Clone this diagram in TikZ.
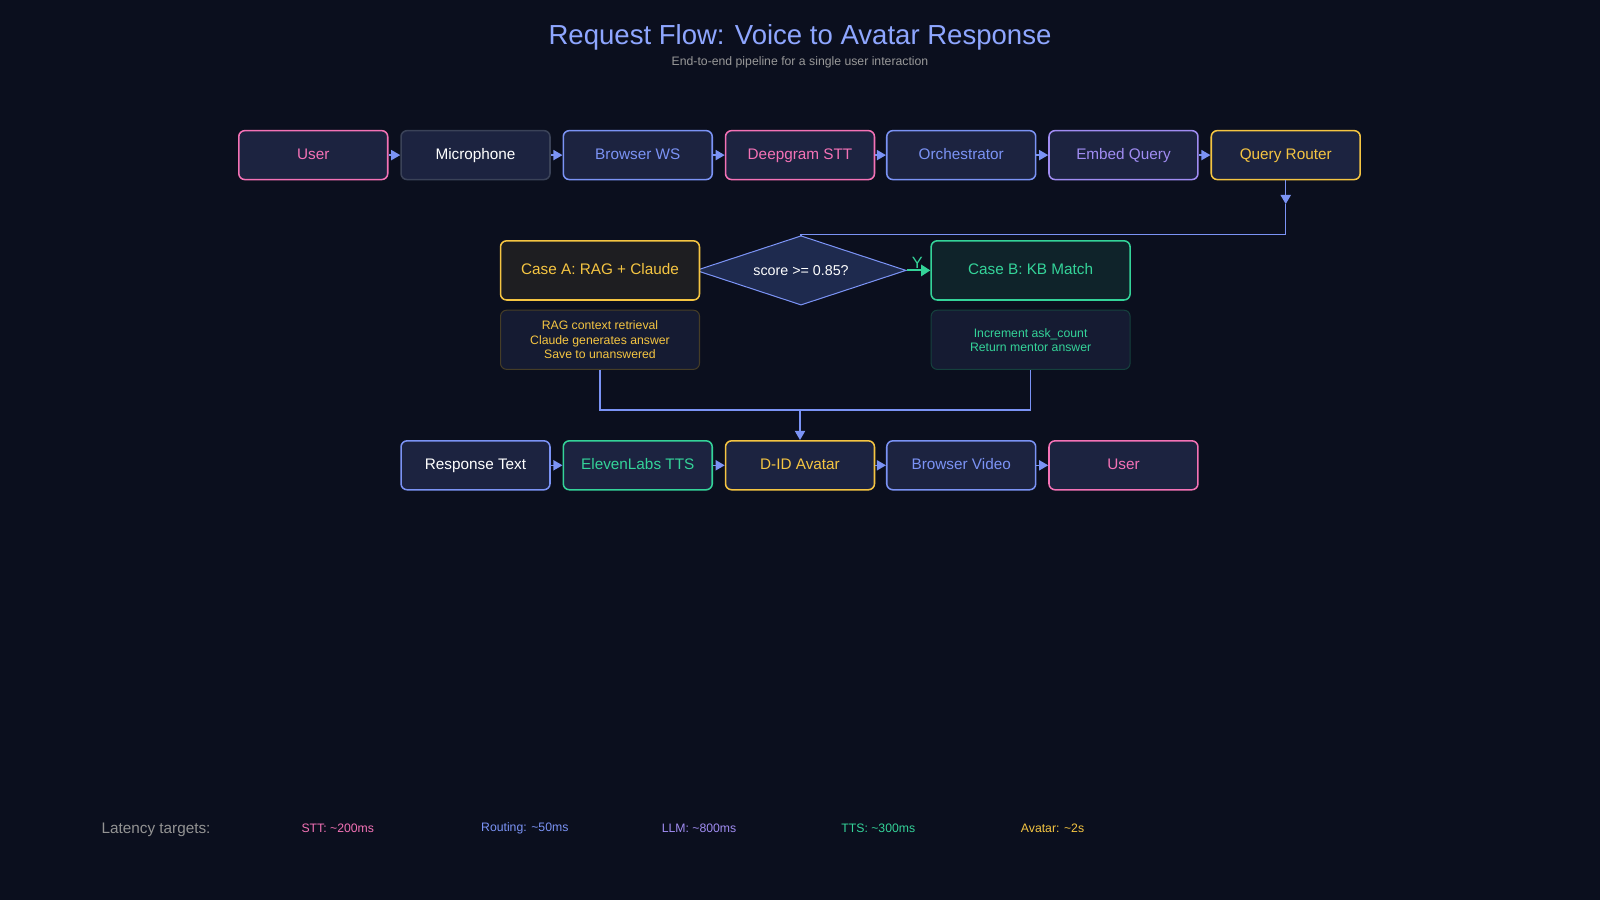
\documentclass[tikz,border=0pt]{standalone}
\usepackage{fontspec}
\setmainfont{Liberation Sans}
\usetikzlibrary{shapes.geometric,arrows.meta}
\definecolor{bg}{HTML}{0B0F1E}
\definecolor{boxfill}{HTML}{1C2340}
\definecolor{decfill}{HTML}{1E2A4E}
\definecolor{cpink}{HTML}{F472B6}
\definecolor{cblue}{HTML}{7B93F5}
\definecolor{cpurple}{HTML}{A08CF2}
\definecolor{cyellow}{HTML}{F5C542}
\definecolor{cgreen}{HTML}{34D399}
\definecolor{cgray}{HTML}{3A4258}
\definecolor{ctitle}{HTML}{8EA6FF}
\tikzstyle{bx}=[rectangle,rounded corners=6pt,draw,line width=1.5pt,fill=boxfill,minimum width=146pt,minimum height=48pt,text height=11pt,text depth=3pt,font=\fontsize{15}{18}\selectfont]
\tikzstyle{cs}=[bx,minimum width=195pt,minimum height=58pt]
\tikzstyle{dt}=[cs,line width=1pt,text height=,text depth=,font=\fontsize{12}{17}\selectfont,align=center]
\tikzstyle{flow}=[draw=cblue,line width=1.5pt,-{Triangle[length=9pt,width=10pt]}]
\tikzstyle{ln}=[draw=cblue,line width=1.5pt]
\tikzstyle{lat}=[anchor=west,font=\fontsize{12}{14}\selectfont]
\begin{document}
\begin{tikzpicture}[x=1pt,y=-1pt]
\fill[bg] (0,0) rectangle (1568,882);
\useasboundingbox (0,0) rectangle (1568,882);
\node[text=ctitle,font=\fontsize{27}{32}\selectfont] (title) at (784,37) {Request Flow: Voice to Avatar Response};
\node[text=gray!80,font=\fontsize{12}{14}\selectfont] (sub) at (784,61) {End-to-end pipeline for a single user interaction};
% top row
\node[bx,draw=cpink,text=cpink] (user1) at (307,152) {User};
\node[bx,draw=cgray,text=white] (mic) at (466,152) {Microphone};
\node[bx,draw=cblue,text=cblue] (bws) at (625,152) {Browser WS};
\node[bx,draw=cpink,text=cpink] (stt) at (784,152) {Deepgram STT};
\node[bx,draw=cblue,text=cblue] (orch) at (942,152) {Orchestrator};
\node[bx,draw=cpurple,text=cpurple] (emb) at (1101,152) {Embed Query};
\node[bx,draw=cyellow,text=cyellow] (qr) at (1260,152) {Query Router};
\foreach \a/\b in {user1/mic,mic/bws,bws/stt,stt/orch,orch/emb,emb/qr}
  \draw[flow] (\a) -- (\b);
% decision
\node[diamond,draw=cblue,line width=1pt,fill=decfill,aspect=3,minimum width=206pt,minimum height=68pt,inner sep=0pt,text=white,font=\fontsize{14}{17}\selectfont] (dec) at (785,265) {score >= 0.85?};
\node[cs,draw=cyellow,fill=cyellow!8!bg,text=cyellow] (casea) at (588,265) {Case A: RAG + Claude};
\node[cs,draw=cgreen,fill=cgreen!10!bg,text=cgreen] (caseb) at (1010,265) {Case B: KB Match};
\node[dt,draw=cyellow!25!bg,fill=boxfill!60!bg,text=cyellow] (deta) at (588,333) {RAG context retrieval\\[-3pt]Claude generates answer\\[-3pt]Save to unanswered};
\node[dt,draw=cgreen!25!bg,fill=boxfill!60!bg,text=cgreen] (detb) at (1010,333) {Increment ask\_count\\[-3pt]Return mentor answer};
\coordinate (j1) at (1260,200);
\coordinate (j2) at (1260,230);
\draw[flow] (qr.south) -- (j1);
\draw[ln] (j1) -- (j2) -- (j2-|dec.north) -- (dec.north);
\draw[draw=cgreen,line width=2pt,-{Triangle[length=9pt,width=11pt]}] (dec.east) -- (caseb.west) node[pos=0.45,above,text=cgreen,font=\fontsize{16}{18}\selectfont,inner sep=1pt] {Y};
% bottom row
\node[bx,draw=cblue,text=white] (resp) at (466,456) {Response Text};
\node[bx,draw=cgreen,text=cgreen] (tts) at (625,456) {ElevenLabs TTS};
\node[bx,draw=cyellow,text=cyellow] (did) at (784,456) {D-ID Avatar};
\node[bx,draw=cblue,text=cblue] (bvid) at (942,456) {Browser Video};
\node[bx,draw=cpink,text=cpink] (user2) at (1101,456) {User};
\coordinate (m) at (784,402);
\draw[ln] (deta.south) -- (deta.south|-m) -- (detb.south|-m) -- (detb.south);
\draw[flow] (m) -- (did.north);
\foreach \a/\b in {resp/tts,tts/did,did/bvid,bvid/user2}
  \draw[flow] (\a) -- (\b);
% latency
\node[anchor=west,text=gray!85,font=\fontsize{15}{18}\selectfont] (latl) at (96,813) {Latency targets:};
\node[lat,text=cpink] (l1) at (292,812) {STT: \textasciitilde200ms};
\node[lat,text=cblue] (l2) at (468,812) {Routing: \textasciitilde50ms};
\node[lat,text=cpurple] (l3) at (645,812) {LLM: \textasciitilde800ms};
\node[lat,text=cgreen] (l4) at (821,812) {TTS: \textasciitilde300ms};
\node[lat,text=cyellow] (l5) at (997,812) {Avatar: \textasciitilde2s};
\end{tikzpicture}
\end{document}
